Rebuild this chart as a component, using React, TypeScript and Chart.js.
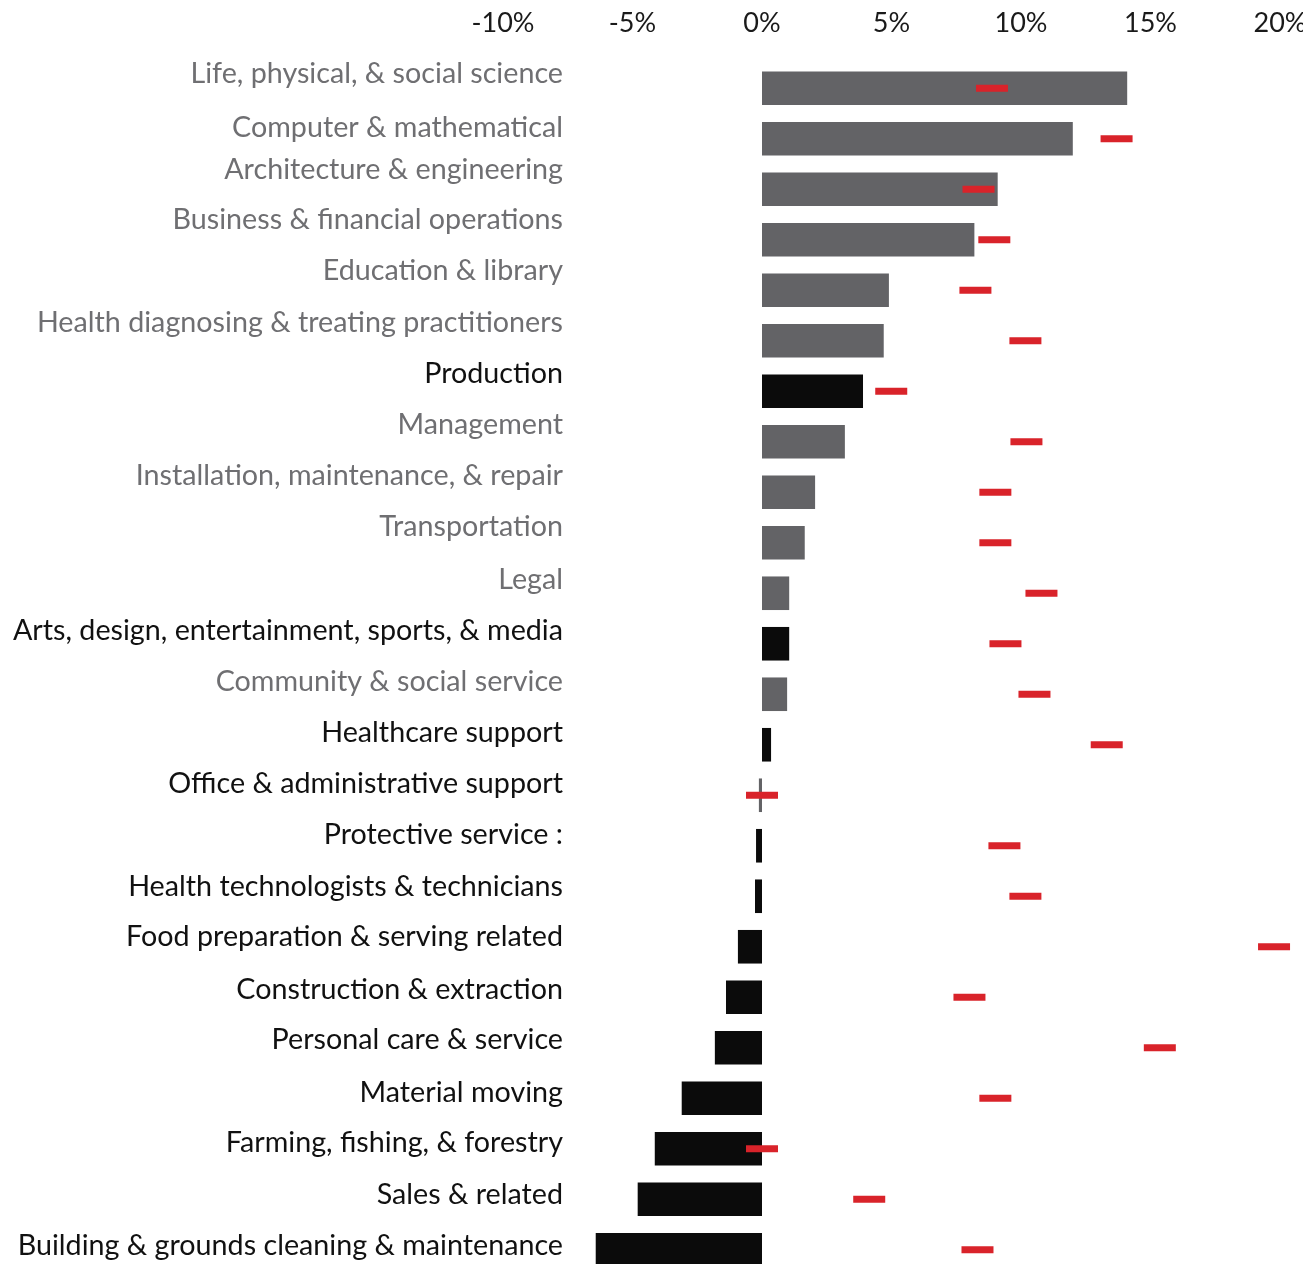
import React, { useEffect, useRef } from "react";
import { Chart, registerables } from "chart.js";

Chart.register(...registerables);

const categories = [
  "Life, physical, & social science",
  "Computer & mathematical",
  "Architecture & engineering",
  "Business & financial operations",
  "Education & library",
  "Health diagnosing & treating practitioners",
  "Production",
  "Management",
  "Installation, maintenance, & repair",
  "Transportation",
  "Legal",
  "Arts, design, entertainment, sports, & media",
  "Community & social service",
  "Healthcare support",
  "Office & administrative support",
  "Protective service :",
  "Health technologists & technicians",
  "Food preparation & serving related",
  "Construction & extraction",
  "Personal care & service",
  "Material moving",
  "Farming, fishing, & forestry",
  "Sales & related",
  "Building & grounds cleaning & maintenance",
];

const growth = [
  14.1, 12.0, 9.1, 8.2, 4.9, 4.7, 3.9, 3.2, 2.05, 1.65, 1.05, 1.05, 0.97, 0.35,
  -0.12, -0.23, -0.27, -0.93, -1.39, -1.82, -3.1, -4.14, -4.8, -6.42,
];

const benchmark = [
  8.88, 13.69, 8.36, 8.97, 8.24, 10.17, 4.99, 10.21, 9.01, 9.01, 10.79, 9.4,
  10.52, 13.31, 0.0, 9.36, 10.17, 19.77, 8.01, 15.36, 9.01, 0.0, 4.14, 8.32,
];

const barDark = [
  false, false, false, false, false, false, true, false, false, false, false, true,
  false, true, false, true, true, true, true, true, true, true, true, true,
];

const labelDark = [
  false, false, false, false, false, false, true, false, false, false, false, true,
  false, true, true, true, true, true, true, true, true, true, true, true,
];

const xMin = -10;
const xMax = 20;
const xStep = 5;

// style: label baseline offset (px) from the bar's centre line
const LABEL_BASELINE_NUDGE = [
  -5, -2, -10, -11, -10, -9, -8, -8, -7, -7, -4, -4, -3.5, -2.5, -2.5, -1.5, -0.5, -0.5,
  1.5, 1.5, 3.5, 3.5, 4.5, 5.5,
];

const GREY_BAR = "#636366";
const DARK_BAR = "#0b0b0b";
const GREY_TEXT = "#6f6f72";
const DARK_TEXT = "#111111";
const RED = "#d9232a";
const FONT = "Lato";

const labelPlugin = {
  id: "categoryLabels",
  afterDraw(chart: any) {
    const { ctx } = chart;
    const yScale = chart.scales.y;
    ctx.save();
    ctx.font = `28.7px ${FONT}`;
    ctx.textAlign = "right";
    ctx.textBaseline = "alphabetic";
    categories.forEach((c, i) => {
      ctx.fillStyle = labelDark[i] ? DARK_TEXT : GREY_TEXT;
      ctx.fillText(c, 555, yScale.getPixelForValue(i) + LABEL_BASELINE_NUDGE[i]);
    });
    ctx.restore();
  },
};

export default function App() {
  const ref = useRef<HTMLCanvasElement | null>(null);

  useEffect(() => {
    if (!ref.current) return;
    const chart = new Chart(ref.current, {
      type: "bar",
      data: {
        labels: categories,
        datasets: [
          {
            type: "line",
            label: "benchmark",
            data: benchmark,
            indexAxis: "y",
            showLine: false,
            clip: false,
            pointStyle: "line",
            pointRadius: 16,
            pointHoverRadius: 16,
            pointBorderWidth: 7,
            pointHoverBorderWidth: 7,
            pointBorderColor: RED,
            pointBackgroundColor: RED,
            borderColor: RED,
            order: 1,
          } as any,
          {
            type: "bar",
            label: "growth",
            data: growth,
            backgroundColor: barDark.map((d) => (d ? DARK_BAR : GREY_BAR)),
            barPercentage: 0.665,
            categoryPercentage: 1,
            order: 2,
          },
        ],
      },
      options: {
        indexAxis: "y",
        responsive: false,
        animation: false,
        layout: { padding: { left: 495, right: 23, top: 0, bottom: 0 } },
        plugins: {
          legend: { display: false },
          tooltip: { enabled: false },
        },
        scales: {
          x: {
            type: "linear",
            position: "top",
            min: xMin,
            max: xMax,
            grid: { display: false, drawTicks: false },
            border: { display: false },
            ticks: {
              stepSize: xStep,
              padding: 24,
              color: "#1a1a1a",
              font: { family: FONT, size: 27 },
              callback: (v: any) => `${v}%`,
            },
            afterFit: (scale: any) => {
              scale.height = 55;
              scale.paddingLeft = 0;
              scale.paddingRight = 0;
            },
          },
          y: {
            type: "category",
            display: false,
            offset: true,
            grid: { display: false },
          },
        },
      },
      plugins: [labelPlugin],
    });
    return () => chart.destroy();
  }, []);

  return (
    <div style={{ width: 1295, height: 1256, overflow: "hidden" }}>
      <canvas ref={ref} width={1295} height={1290} />
    </div>
  );
}
